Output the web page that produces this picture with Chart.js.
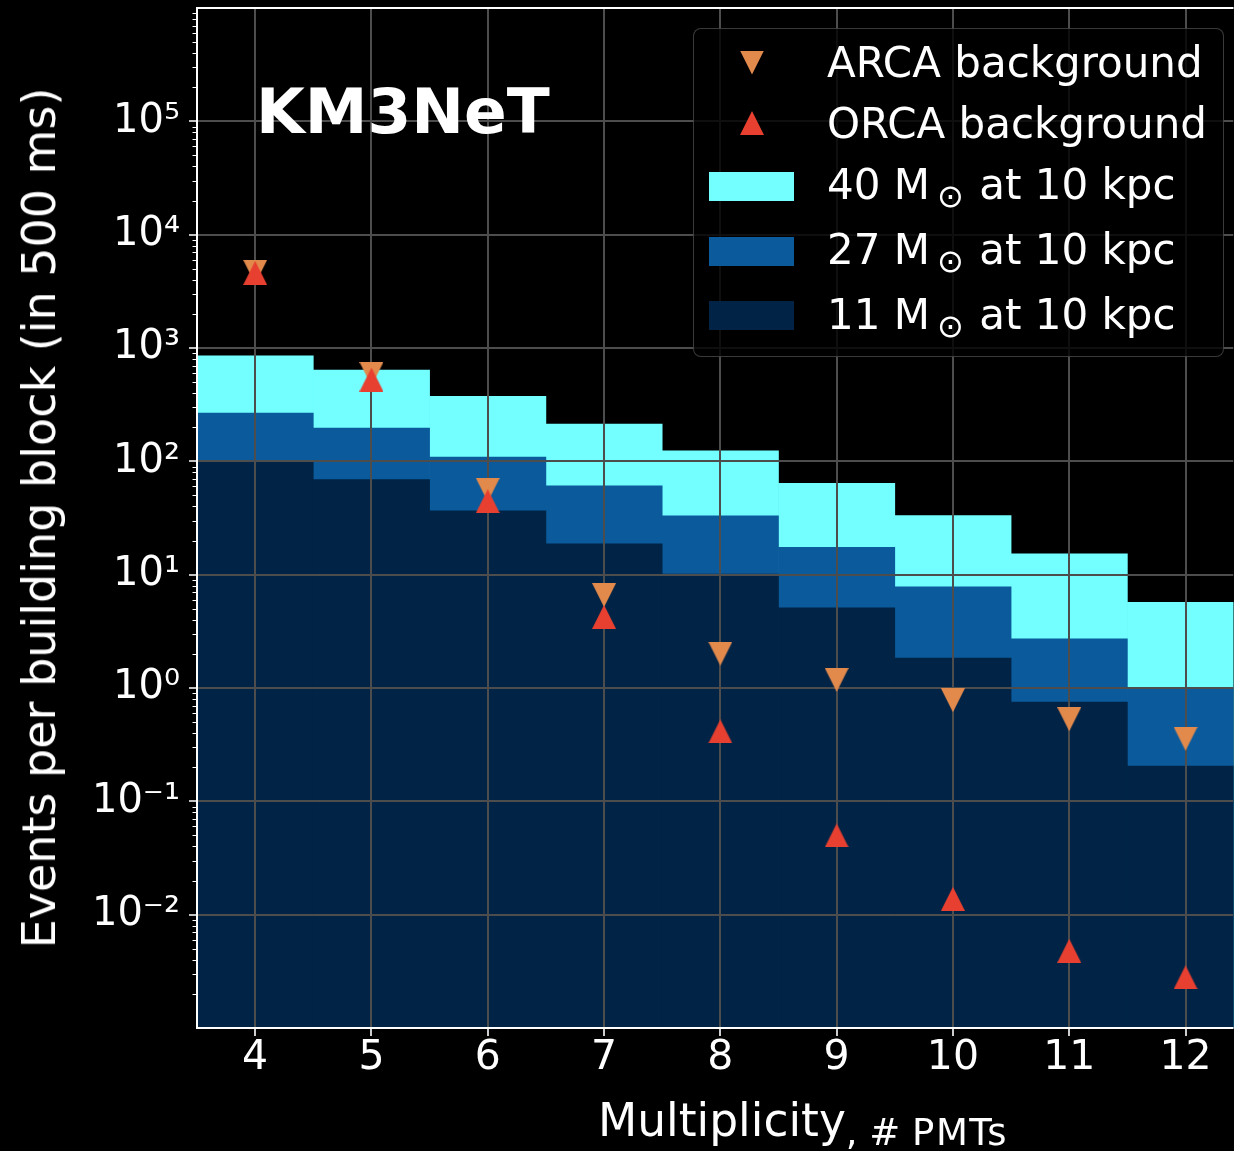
<!DOCTYPE html>
<html>
<head>
<meta charset="utf-8">
<script src="https://cdn.jsdelivr.net/npm/chart.js@4.4.1/dist/chart.umd.min.js"></script>
<style>
  html, body { margin: 0; padding: 0; background: #000; }
  #wrap { position: relative; width: 1234px; height: 1151px; overflow: hidden; background: #000;
          font-family: "DejaVu Sans", sans-serif; color: #fff; }
  #c { position: absolute; left: 0; top: 0; }
  .txt { position: absolute; white-space: nowrap; line-height: 1; }
  #brand { left: 256px; top: 79.7px; font-size: 63px; font-weight: bold; }
  #ytitle { left: 38.5px; top: 517.5px; font-size: 46px; transform: translate(-50%, -50%) rotate(-90deg); }
  #xtitle { left: 598px; top: 1097.5px; font-size: 45.5px; }
  #xtitle .unit { font-size: 37px; vertical-align: -9px; letter-spacing: 1.5px; word-spacing: -3px; }
  #legend { position: absolute; left: 693px; top: 28px; width: 531px; height: 329px; box-sizing: border-box;
            border: 1.5px solid rgba(128,128,128,0.45); border-radius: 8px; background: rgba(0,0,0,0.8); }
  .leg { font-size: 42px; left: 827px; }
  .sun { font-size: 32px; vertical-align: -8px; margin-left: 7px; margin-right: 2px; }
  .sym { position: absolute; }
  .tri-down { clip-path: polygon(0 0, 100% 0, 50% 100%); }
  .tri-up { clip-path: polygon(50% 0, 100% 100%, 0 100%); }
</style>
</head>
<body>
<div id="wrap">
  <canvas id="c" width="1234" height="1151"></canvas>
  <div id="brand" class="txt">KM3NeT</div>
  <div id="ytitle" class="txt">Events per building block (in 500 ms)</div>
  <div id="xtitle" class="txt">Multiplicity<span class="unit">, # PMTs</span></div>
  <div id="legend"></div>
  <div id="legendItems"></div>
</div>
<script>
// ---------------- data ----------------
const multiplicity   = [4, 5, 6, 7, 8, 9, 10, 11, 12];
const arcaBackground = [4700, 590, 56, 6.6, 2.01, 1.18, 0.78, 0.53, 0.357];
const orcaBackground = [4600, 527, 44.5, 4.24, 0.414, 0.050, 0.0138, 0.0048, 0.0028];
const signal40       = [855, 640, 375, 213, 124, 64, 33.3, 15.3, 5.7];
const signal27       = [267, 197, 109, 60.7, 33, 17.4, 7.8, 2.72, 1.0];
const signal11       = [98, 69, 36.5, 18.7, 10.1, 5.1, 1.84, 0.75, 0.205];
const seriesLabels   = ['ARCA background', 'ORCA background', '40 M⊙ at 10 kpc', '27 M⊙ at 10 kpc', '11 M⊙ at 10 kpc'];
const xTickValues    = [4, 5, 6, 7, 8, 9, 10, 11, 12];
const yTickValues    = [1e-2, 1e-1, 1e0, 1e1, 1e2, 1e3, 1e4, 1e5];
const yTickLabels    = ['10⁻²', '10⁻¹', '10⁰', '10¹', '10²', '10³', '10⁴', '10⁵'];

// ---------------- styles ----------------
const COL_ARCA = '#E2894C';
const COL_ORCA = '#E84030';
const COL_40 = '#73FFFF';
const COL_27 = '#0B5B9C';
const COL_11 = '#012446';
const GRID = '#4d4d4d';

function pts(ys) { return multiplicity.map((m, i) => ({ x: m, y: ys[i] })); }

function triangle(color, up) {
  const s = 24;
  const c = document.createElement('canvas');
  c.width = s; c.height = s;
  const g = c.getContext('2d');
  g.fillStyle = color;
  g.beginPath();
  if (up) { g.moveTo(s / 2, 0); g.lineTo(s, s); g.lineTo(0, s); }
  else { g.moveTo(0, 0); g.lineTo(s, 0); g.lineTo(s / 2, s); }
  g.closePath();
  g.fill();
  return c;
}

// grid drawn above the filled histograms, below the markers
const gridPlugin = {
  id: 'gridAbove',
  afterDatasetDraw(chart, args) {
    if (!chart.data.datasets[args.index].gridAfter) return;
    const { ctx, chartArea: a, scales: { x, y } } = chart;
    ctx.save();
    ctx.beginPath();
    ctx.rect(a.left, a.top, a.right - a.left, a.bottom - a.top);
    ctx.clip();
    ctx.strokeStyle = GRID;
    ctx.lineWidth = 2;
    ctx.beginPath();
    xTickValues.forEach(v => {
      const px = Math.round(x.getPixelForValue(v));
      ctx.moveTo(px, a.top); ctx.lineTo(px, a.bottom);
    });
    yTickValues.forEach(v => {
      const py = Math.round(y.getPixelForValue(v));
      ctx.moveTo(a.left, py); ctx.lineTo(a.right, py);
    });
    ctx.stroke();
    ctx.restore();
  },
  afterDraw(chart) {
    const { ctx, chartArea: a, scales: { x, y } } = chart;
    ctx.save();
    ctx.strokeStyle = '#ffffff';
    // spines
    ctx.lineWidth = 2;
    ctx.beginPath();
    ctx.moveTo(a.left, a.top); ctx.lineTo(a.left, a.bottom);
    ctx.moveTo(a.left - 1, a.bottom); ctx.lineTo(a.right, a.bottom);
    ctx.moveTo(a.left - 1, a.top); ctx.lineTo(a.right, a.top);
    ctx.stroke();
    // major ticks
    ctx.lineWidth = 1.6;
    ctx.beginPath();
    xTickValues.forEach(v => {
      const px = Math.round(x.getPixelForValue(v));
      ctx.moveTo(px, a.bottom); ctx.lineTo(px, a.bottom + 8);
    });
    yTickValues.forEach(v => {
      const py = Math.round(y.getPixelForValue(v));
      ctx.moveTo(a.left - 8, py); ctx.lineTo(a.left, py);
    });
    ctx.stroke();
    // minor log ticks
    ctx.lineWidth = 1.2;
    ctx.beginPath();
    for (let k = -3; k <= 5; k++) {
      for (let m = 2; m <= 9; m++) {
        const v = m * Math.pow(10, k);
        if (v <= y.min || v >= y.max) continue;
        const py = Math.round(y.getPixelForValue(v)) + 0.5;
        ctx.moveTo(a.left - 4.5, py); ctx.lineTo(a.left, py);
      }
    }
    ctx.stroke();
    ctx.restore();
  }
};

Chart.defaults.font.family = "'DejaVu Sans', sans-serif";
Chart.defaults.color = '#ffffff';

const barCommon = { type: 'bar', borderWidth: 0, barPercentage: 1, categoryPercentage: 1, grouped: false };
const markerCommon = { type: 'line', showLine: false, pointRadius: 0.5, pointBorderWidth: 0, pointHoverRadius: 0.5, borderWidth: 0 };

function noPad(s) { s.paddingTop = 0; s.paddingBottom = 0; s.paddingLeft = 0; s.paddingRight = 0; }

new Chart(document.getElementById('c'), {
  type: 'bar',
  data: {
    datasets: [
      Object.assign({ label: seriesLabels[0], data: pts(arcaBackground), pointStyle: triangle(COL_ARCA, false),
        backgroundColor: COL_ARCA, borderColor: COL_ARCA, order: 1 }, markerCommon),
      Object.assign({ label: seriesLabels[1], data: pts(orcaBackground), pointStyle: triangle(COL_ORCA, true),
        backgroundColor: COL_ORCA, borderColor: COL_ORCA, order: 0 }, markerCommon),
      Object.assign({ label: seriesLabels[2], data: pts(signal40), backgroundColor: COL_40, order: 5 }, barCommon),
      Object.assign({ label: seriesLabels[3], data: pts(signal27), backgroundColor: COL_27, order: 4 }, barCommon),
      Object.assign({ label: seriesLabels[4], data: pts(signal11), backgroundColor: COL_11, order: 3, gridAfter: true }, barCommon)
    ]
  },
  options: {
    responsive: false,
    animation: false,
    devicePixelRatio: 1,
    layout: { padding: { top: 8, left: 0, right: 0, bottom: 0 } },
    plugins: { legend: { display: false }, tooltip: { enabled: false } },
    scales: {
      x: {
        type: 'linear',
        offset: false,
        min: 3.5,
        max: 12.4125,
        grid: { display: false, drawTicks: false, offset: false },
        border: { display: false },
        afterBuildTicks: s => { s.ticks = xTickValues.map(v => ({ value: v })); },
        afterFit: s => { s.height = 123; noPad(s); },
        ticks: { color: '#ffffff', font: { size: 41 }, padding: 6, autoSkip: false, maxRotation: 0,
                 callback: v => String(v) }
      },
      y: {
        type: 'logarithmic',
        min: 1e-3,
        max: 1e6,
        grid: { display: false, drawTicks: false },
        border: { display: false },
        afterBuildTicks: s => { s.ticks = yTickValues.map(v => ({ value: v })); },
        afterFit: s => { s.width = 197; noPad(s); },
        ticks: { color: '#ffffff', font: { size: 40 }, padding: 17, autoSkip: false,
                 callback: (v, i) => yTickLabels[i] }
      }
    }
  },
  plugins: [gridPlugin]
});

// ---------------- legend (HTML text) ----------------
const legendRows = [
  { kind: 'down', color: COL_ARCA, text: seriesLabels[0], base: 77.3, cy: 62.5 },
  { kind: 'up',   color: COL_ORCA, text: seriesLabels[1], base: 139,  cy: 123 },
  { kind: 'rect', color: COL_40,   text: seriesLabels[2], base: 199.3, top: 172 },
  { kind: 'rect', color: COL_27,   text: seriesLabels[3], base: 264.3, top: 236.5 },
  { kind: 'rect', color: COL_11,   text: seriesLabels[4], base: 329.3, top: 301 }
];
const holder = document.getElementById('legendItems');
legendRows.forEach(r => {
  const sym = document.createElement('div');
  sym.className = 'sym';
  sym.style.background = r.color;
  if (r.kind === 'rect') {
    sym.style.left = '709px'; sym.style.top = r.top + 'px';
    sym.style.width = '85px'; sym.style.height = '29px';
  } else {
    sym.className += r.kind === 'up' ? ' tri-up' : ' tri-down';
    sym.style.left = (752 - 12) + 'px'; sym.style.top = (r.cy - 12) + 'px';
    sym.style.width = '24px'; sym.style.height = '24px';
  }
  holder.appendChild(sym);
  const t = document.createElement('div');
  t.className = 'txt leg';
  t.style.top = (r.base - 0.846 * 42) + 'px';
  const parts = r.text.split('⊙');
  if (parts.length === 2) {
    t.appendChild(document.createTextNode(parts[0].trimEnd()));
    const s = document.createElement('span');
    s.className = 'sun';
    s.textContent = '⊙';
    t.appendChild(s);
    t.appendChild(document.createTextNode(parts[1]));
  } else {
    t.textContent = r.text;
  }
  holder.appendChild(t);
});
</script>
</body>
</html>
